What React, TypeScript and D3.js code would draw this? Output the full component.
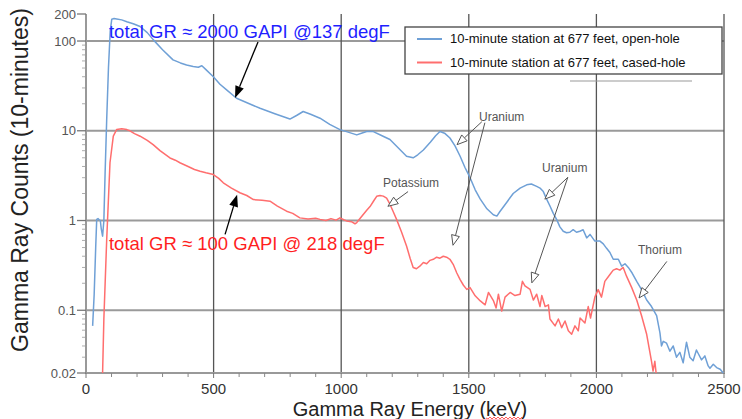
import React from 'react';
import * as d3 from 'd3';

// ---- data: [energy keV, counts per 10 minutes] ----
const openHoleSpectrum: [number, number][] = [
  [26, 0.067], [32, 0.15], [38, 0.5], [42, 1.03], [47, 1.05], [52, 1.02], [56, 1.0], [60, 0.8], [65, 0.67],
  [70, 1.0], [75, 3.5], [81, 13], [88, 50], [95, 130], [101, 175], [110, 178], [120, 176], [140, 172],
  [160, 164], [185, 156], [212, 145], [240, 124], [264, 103], [300, 80], [341, 61.6], [370, 57], [394, 54],
  [420, 52], [440, 51], [454, 53], [470, 48], [499, 40], [525, 33], [551, 28.6], [590, 23], [640, 20],
  [682, 17.8], [740, 15.5], [799, 13.5], [825, 14.8], [851, 16.4], [880, 15.3], [917, 13.8], [955, 11.8],
  [995, 10.3], [1030, 9.6], [1061, 9.0], [1085, 9.5], [1100, 9.8], [1126, 9.8], [1160, 8.8], [1191, 8.0],
  [1225, 6.4], [1256, 5.2], [1282, 5.0], [1300, 5.4], [1322, 6.1], [1350, 7.5], [1370, 8.8], [1387, 9.8],
  [1405, 9.4], [1426, 8.3], [1446, 6.8], [1466, 5.2], [1485, 3.9], [1505, 3.0], [1525, 2.2], [1545, 1.73],
  [1571, 1.35], [1596, 1.16], [1610, 1.12], [1622, 1.26], [1649, 1.6], [1674, 2.0], [1701, 2.3], [1727, 2.5],
  [1745, 2.55], [1766, 2.4], [1779, 2.3], [1792, 2.1], [1805, 1.73], [1818, 1.45], [1831, 1.2], [1844, 1.03],
  [1857, 0.85], [1870, 0.76], [1883, 0.73], [1896, 0.74], [1909, 0.79], [1922, 0.74], [1935, 0.76],
  [1948, 0.79], [1962, 0.64], [1975, 0.7], [1994, 0.59], [2014, 0.59], [2027, 0.55], [2040, 0.49],
  [2053, 0.44], [2066, 0.37], [2086, 0.37], [2099, 0.31], [2112, 0.33], [2125, 0.30], [2140, 0.26],
  [2158, 0.21], [2177, 0.17], [2197, 0.13], [2216, 0.11], [2236, 0.087], [2249, 0.056], [2255, 0.04],
  [2262, 0.045], [2275, 0.043], [2288, 0.035], [2301, 0.040], [2314, 0.03], [2327, 0.034], [2340, 0.026],
  [2353, 0.044], [2366, 0.03], [2379, 0.0274], [2392, 0.036], [2399, 0.033], [2412, 0.028], [2425, 0.031],
  [2438, 0.024], [2445, 0.0226], [2458, 0.025], [2471, 0.023], [2485, 0.022], [2497, 0.02],
];

const casedHoleSpectrum: [number, number][] = [
  [65, 0.02], [70, 0.08], [81, 0.6], [94, 4.4], [107, 8.7], [120, 10.3], [140, 10.5], [160, 10.3],
  [172, 10.0], [190, 9.3], [212, 8.7], [240, 7.8], [263, 7.0], [290, 6.0], [329, 4.98], [350, 4.7],
  [368, 4.4], [400, 4.0], [425, 3.7], [447, 3.54], [470, 3.4], [499, 3.25], [520, 2.95], [538, 2.63],
  [570, 2.3], [603, 2.04], [630, 1.9], [656, 1.71], [690, 1.68], [721, 1.64], [750, 1.45], [786, 1.27],
  [810, 1.2], [838, 1.07], [870, 1.04], [900, 1.06], [917, 1.03], [940, 1.0], [960, 1.05], [980, 1.01],
  [995, 1.07], [1010, 1.02], [1021, 0.99], [1040, 0.97], [1054, 0.92], [1061, 0.95], [1080, 1.11],
  [1100, 1.3], [1113, 1.43], [1127, 1.65], [1139, 1.86], [1152, 1.9], [1165, 1.87], [1178, 1.78],
  [1191, 1.52], [1204, 1.25], [1217, 1.03], [1236, 0.75], [1256, 0.52], [1270, 0.38], [1282, 0.30],
  [1295, 0.29], [1308, 0.31], [1322, 0.34], [1335, 0.33], [1348, 0.36], [1361, 0.37], [1374, 0.39],
  [1387, 0.38], [1400, 0.40], [1413, 0.39], [1426, 0.37], [1440, 0.32], [1453, 0.26], [1466, 0.22],
  [1479, 0.19], [1492, 0.171], [1505, 0.179], [1525, 0.145], [1545, 0.127], [1564, 0.115], [1577, 0.158],
  [1597, 0.127], [1607, 0.106], [1616, 0.151], [1629, 0.098], [1642, 0.14], [1662, 0.158], [1681, 0.146],
  [1701, 0.151], [1710, 0.21], [1720, 0.187], [1740, 0.171], [1753, 0.13], [1766, 0.151], [1779, 0.11],
  [1786, 0.146], [1799, 0.11], [1812, 0.115], [1818, 0.08], [1838, 0.067], [1851, 0.08], [1864, 0.064],
  [1877, 0.076], [1890, 0.059], [1903, 0.054], [1916, 0.067], [1929, 0.059], [1936, 0.082], [1955, 0.072],
  [1968, 0.11], [1977, 0.082], [1994, 0.14], [2007, 0.17], [2020, 0.14], [2033, 0.21], [2053, 0.25],
  [2066, 0.28], [2079, 0.29], [2092, 0.28], [2105, 0.3], [2118, 0.24], [2138, 0.18], [2158, 0.13],
  [2177, 0.087], [2197, 0.054], [2216, 0.027], [2222, 0.021], [2229, 0.027], [2234, 0.02],
];

const xTickValues = [0, 500, 1000, 1500, 2000, 2500];
const yTickValues = [0.02, 0.1, 1, 10, 100, 200];
const yTickLabels = ['0.02', '0.1', '1', '10', '100', '200'];
const yGridValues = [0.1, 1, 10, 100];
const xGridValues = [500, 1000, 1500, 2000, 2500];

const seriesNames = [
  '10-minute station at 677 feet, open-hole',
  '10-minute station at 677 feet, cased-hole',
];

// element annotations: label anchor and arrows (from -> to) in data coordinates
const elementNotes = [
  { label: 'Uranium', at: [1540, 12.9], arrows: [[1551, 12.6, 1454, 7.0], [1563, 12.3, 1438, 0.53]] },
  { label: 'Uranium', at: [1787, 3.45], arrows: [[1888, 3.03, 1798, 1.73], [1888, 3.03, 1747, 0.202]] },
  { label: 'Thorium', at: [2163, 0.42], arrows: [[2276, 0.35, 2167, 0.137]] },
  { label: 'Potassium', at: [1164, 2.38], arrows: [[1262, 2.1, 1183, 1.44]] },
];

const grNotes = [
  { text: 'total GR ≈ 2000 GAPI @137 degF', at: [90, 108], color: '#1f1fff', arrow: [674, 97.8, 584, 23.2] },
  { text: 'total GR ≈ 100 GAPI @ 218 degF', at: [90, 0.47], color: '#ff1f1f', arrow: [545, 0.7, 592, 1.94] },
];

const FONT = '"Liberation Sans", Arial, sans-serif';

function arrowHead(x1: number, y1: number, x2: number, y2: number, len: number, half: number) {
  const dx = x2 - x1, dy = y2 - y1;
  const d = Math.hypot(dx, dy);
  const ux = dx / d, uy = dy / d;
  const bx = x2 - ux * len, by = y2 - uy * len;
  const px = -uy, py = ux;
  return {
    base: [bx, by],
    points: `${x2},${y2} ${bx + px * half},${by + py * half} ${bx - px * half},${by - py * half}`,
  };
}

export default function App() {
  const x = d3.scaleLinear().domain([0, 2500]).range([86, 724]);
  const y = d3.scaleLog().domain([0.02, 200]).range([373, 14]).clamp(true);

  const line = d3
    .line<[number, number]>()
    .x((d) => x(d[0]))
    .y((d) => y(d[1]));

  const minorX = d3.range(0, 2501, 100).filter((v) => v % 500 !== 0);
  const minorY: number[] = [];
  [0.01, 0.1, 1, 10, 100].forEach((dec) => {
    for (let k = 2; k <= 9; k++) {
      const v = dec * k;
      if (v > 0.02 && v < 200) minorY.push(v);
    }
  });

  // squiggle under "keV"
  let squiggle = 'M486,418';
  for (let i = 1; i <= 18; i++) squiggle += ` L${486 + i * 2},${i % 2 ? 419 : 417}`;

  return (
    <svg
      width={742}
      height={419}
      style={{ position: 'absolute', left: 0, top: 0, background: '#fff' }}
      fontFamily={FONT}
    >
      <rect x={0} y={0} width={742} height={419} fill="#fff" />
      {/* horizontal grid */}
      {yGridValues.map((v) => (
        <line key={'hg' + v} x1={86} x2={724} y1={y(v)} y2={y(v)} stroke="#9a9a9a" strokeWidth={1.8} />
      ))}
      {/* vertical grid */}
      {xGridValues.map((v) => (
        <line key={'vg' + v} x1={x(v)} x2={x(v)} y1={14} y2={373} stroke="#555" strokeWidth={1.3} />
      ))}
      {/* axes */}
      <line x1={86} x2={86} y1={14} y2={374} stroke="#999" strokeWidth={2} />
      <line x1={85} x2={725} y1={373} y2={373} stroke="#999" strokeWidth={2} />
      {/* x ticks */}
      {xTickValues.map((v) => (
        <line key={'xt' + v} x1={x(v)} x2={x(v)} y1={373} y2={378} stroke="#777" strokeWidth={1} />
      ))}
      {minorX.map((v) => (
        <line key={'xm' + v} x1={x(v)} x2={x(v)} y1={373} y2={377} stroke="#888" strokeWidth={1} />
      ))}
      {xTickValues.map((v) => (
        <text key={'xl' + v} x={x(v)} y={394} textAnchor="middle" fontSize={15} fill="#333">
          {v}
        </text>
      ))}
      {/* y ticks */}
      {yTickValues.map((v) => (
        <line key={'yt' + v} x1={77} x2={86} y1={y(v)} y2={y(v)} stroke="#777" strokeWidth={1.3} />
      ))}
      {minorY.map((v) => (
        <line key={'ym' + v} x1={82} x2={86} y1={y(v)} y2={y(v)} stroke="#999" strokeWidth={0.8} />
      ))}
      {yTickValues.map((v, i) => (
        <text key={'yl' + v} x={76} y={y(v)} dy="0.35em" textAnchor="end" fontSize={13} fill="#555">
          {yTickLabels[i]}
        </text>
      ))}

      {/* series */}
      <path d={line(openHoleSpectrum) || ''} fill="none" stroke="#6fa0d6" strokeWidth={1.5} strokeLinejoin="round" />
      <path d={line(casedHoleSpectrum) || ''} fill="none" stroke="#ff6e6e" strokeWidth={1.5} strokeLinejoin="round" />

      {/* axis titles */}
      <text x={410} y={416} textAnchor="middle" fontSize={20} fill="#222">
        Gamma Ray Energy (keV)
      </text>
      <path d={squiggle} fill="none" stroke="#f33" strokeWidth={0.8} />
      <text
        transform="translate(28,180) rotate(-90)"
        x={0}
        y={0}
        textAnchor="middle"
        fontSize={23}
        fill="#222"
      >
        Gamma Ray Counts (10-minutes)
      </text>

      {/* legend */}
      <rect x={405} y={27} width={317} height={47} fill="#fff" stroke="#444" strokeWidth={1.3} />
      <line x1={417} x2={442} y1={39} y2={39} stroke="#6fa0d6" strokeWidth={2} />
      <line x1={417} x2={442} y1={62.5} y2={62.5} stroke="#ff6e6e" strokeWidth={2} />
      <text x={450} y={43} fontSize={13} fill="#111">{seriesNames[0]}</text>
      <text x={450} y={67} fontSize={13} fill="#111">{seriesNames[1]}</text>
      <line x1={570} x2={692} y1={81} y2={81} stroke="#999" strokeWidth={1} />

      {/* element annotations */}
      {elementNotes.map((n, i) => (
        <g key={'en' + i}>
          <text x={x(n.at[0])} y={y(n.at[1])} fontSize={12} fill="#555">
            {n.label}
          </text>
          {n.arrows.map((a, j) => {
            const x1 = x(a[0]), y1 = y(a[1]), x2 = x(a[2]), y2 = y(a[3]);
            const h = arrowHead(x1, y1, x2, y2, 10, 4);
            return (
              <g key={j}>
                <line x1={x1} y1={y1} x2={h.base[0]} y2={h.base[1]} stroke="#555" strokeWidth={1} />
                <polygon points={h.points} fill="#fff" stroke="#555" strokeWidth={1} />
              </g>
            );
          })}
        </g>
      ))}

      {/* total GR annotations */}
      {grNotes.map((n, i) => {
        const x1 = x(n.arrow[0]), y1 = y(n.arrow[1]), x2 = x(n.arrow[2]), y2 = y(n.arrow[3]);
        const h = arrowHead(x1, y1, x2, y2, 12, 4.5);
        return (
          <g key={'gr' + i}>
            <text x={x(n.at[0])} y={y(n.at[1])} fontSize={18.5} fill={n.color}>
              {n.text}
            </text>
            <line x1={x1} y1={y1} x2={h.base[0]} y2={h.base[1]} stroke="#000" strokeWidth={1.3} />
            <polygon points={h.points} fill="#000" />
          </g>
        );
      })}
    </svg>
  );
}
